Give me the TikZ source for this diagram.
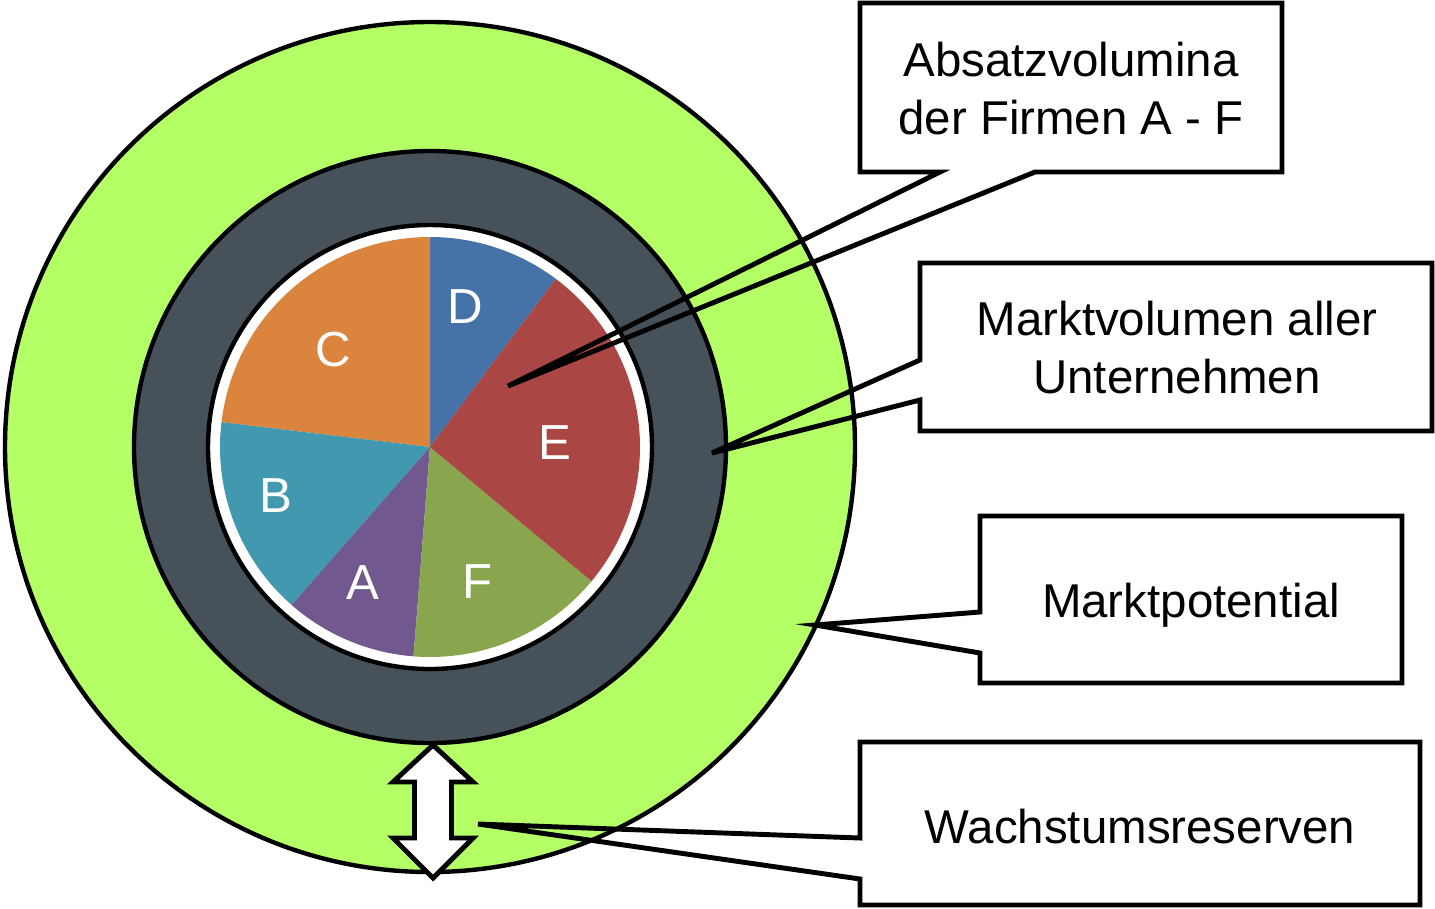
\documentclass[tikz,border=0pt]{standalone}
\usepackage{fontspec}
\setmainfont{Liberation Sans}
\usetikzlibrary{arrows.meta}

\definecolor{ringgreen}{HTML}{B4FF66}
\definecolor{ringdark}{HTML}{465159}
\definecolor{pieA}{HTML}{71588F}
\definecolor{pieB}{HTML}{4198AF}
\definecolor{pieC}{HTML}{DB843D}
\definecolor{pieD}{HTML}{4572A7}
\definecolor{pieE}{HTML}{AA4643}
\definecolor{pieF}{HTML}{89A54E}

\begin{document}
\begin{tikzpicture}[
    every node/.style={font=\fontsize{13.5}{16.5}\selectfont, align=center},
    slicelabel/.style={text=white, font=\fontsize{14}{16.5}\selectfont},
    ring/.style={draw=black, line width=1.25pt},
    callout/.style={draw=black, line width=1.4pt}]
    \useasboundingbox (0,0) rectangle (14.35,9.08);

    % Rings
    \begin{scope}[shift={(4.30,4.61)}]
      \draw[ring, fill=ringgreen] (0,0) circle (4.25);
      \draw[ring, fill=ringdark] (0,0) circle (2.96);
      \draw[ring, fill=white] (0,0) circle (2.22);

      % Pie
      \foreach \from/\to/\col in {53.2/90/pieD, 90/173.2/pieC, 173.2/228.8/pieB,
                                  228.8/265.5/pieA, 265.5/320.3/pieF, 320.3/413.2/pieE}
        \fill[\col] (0,0) -- (\from:2.10) arc[start angle=\from, end angle=\to, radius=2.10] -- cycle;
      \node[slicelabel] (labD) at (0.35,1.40) {D};
      \node[slicelabel] (labC) at (-0.97,0.97) {C};
      \node[slicelabel] (labB) at (-1.54,-0.49) {B};
      \node[slicelabel] (labA) at (-0.67,-1.36) {A};
      \node[slicelabel] (labF) at (0.48,-1.35) {F};
      \node[slicelabel] (labE) at (1.25,0.04) {E};
    \end{scope}

    % Double arrow
    \draw[line width=1.4pt, fill=white] (4.33,1.63) -- (4.73,1.26) -- (4.515,1.26) -- (4.515,0.70)
      -- (4.73,0.70) -- (4.33,0.30) -- (3.93,0.70) -- (4.145,0.70) -- (4.145,1.26) -- (3.93,1.26) -- cycle;

    % Callouts
    \coordinate (tipE) at (5.08,5.22);
    \coordinate (tipM) at (7.12,4.55);
    \coordinate (tipP) at (8.15,2.83);
    \coordinate (tipW) at (4.78,0.84);
    \draw[callout] (9.40,7.36) -- (8.60,7.36) -- (8.60,9.05) -- (12.82,9.05) -- (12.82,7.36)
      -- (10.35,7.36) -- (tipE) -- cycle;
    \draw[callout] (9.20,5.48) -- (9.20,6.45) -- (14.32,6.45) -- (14.32,4.77) -- (9.20,4.77)
      -- (9.20,5.08) -- (tipM) -- cycle;
    \draw[callout] (9.80,2.96) -- (9.80,3.92) -- (14.02,3.92) -- (14.02,2.25) -- (9.80,2.25)
      -- (9.80,2.55) -- (tipP) -- cycle;
    \draw[callout] (8.60,0.70) -- (8.60,1.66) -- (14.20,1.66) -- (14.20,0.03) -- (8.60,0.03)
      -- (8.60,0.29) -- (tipW) -- cycle;

    \node (absatz) at (10.71,8.19) {Absatzvolumina\\der Firmen A - F};
    \node (marktvol) at (11.77,5.60) {Marktvolumen aller\\Unternehmen};
    \node (potential) at (11.91,3.03) {Marktpotential};
    \node (reserve) at (11.40,0.81) {Wachstumsreserven};
  \end{tikzpicture}
\end{document}
